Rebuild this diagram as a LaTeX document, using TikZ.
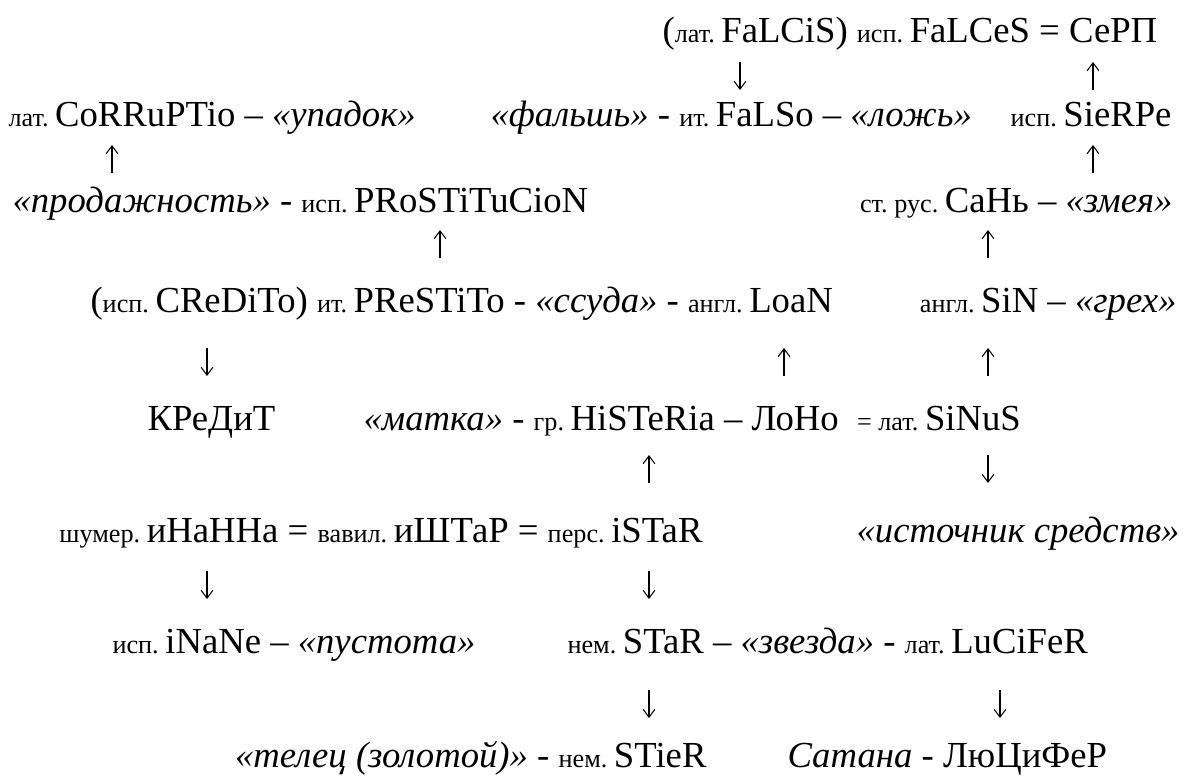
\documentclass[tikz,border=0pt]{standalone}
\usepackage{fontspec}
\setmainfont{Liberation Serif}
\usetikzlibrary{arrows.meta}
\frenchspacing
\def\sm#1{{\fontsize{10}{12}\selectfont #1\ }}
\def\gl#1{{\itshape #1}}
\def\arr{\draw[-{Straight Barb[length=3pt,width=4.5pt]},line width=0.4pt]}

\begin{document}
\begin{tikzpicture}[x=0.3815pt,y=-0.3815pt,
    every node/.style={inner sep=0pt,font=\fontsize{14}{17}\selectfont}]
\useasboundingbox (0,0) rectangle (1190,776);
% words
\node[anchor=base west] (falcis) at (662,42) {(\sm{лат.}FaLCiS) \sm{исп.}FaLCeS = СеРП};
\node[anchor=base west] (corruptio) at (8,126) {\sm{лат.}CoRRuPTio -- \gl{«упадок»}};
\node[anchor=base west] (falso) at (490,126) {\gl{«фальшь»} - \sm{ит.}FaLSo -- \gl{«ложь»}};
\node[anchor=base east] (sierpe) at (1172,126) {\sm{исп.}SieRPe};
\node[anchor=base west] (prostitucion) at (12,212) {\gl{«продажность»} - \sm{исп.}PRoSTiTuCioN};
\node[anchor=base east] (san) at (1173,212) {\sm{ст. рус.}СаНь -- \gl{«змея»}};
\node[anchor=base west] (prestito) at (90,312) {(\sm{исп.}CReDiTo) \sm{ит.}PReSTiTo - \gl{«ссуда»} - \sm{англ.}LoaN};
\node[anchor=base east] (sin) at (1177,312) {\sm{англ.}SiN -- \gl{«грех»}};
\node[anchor=base west] (kredit) at (147,430) {КРеДиТ};
\node[anchor=base west] (histeria) at (363,430) {\gl{«матка»} - \sm{гр.}HiSTeRia -- ЛоНо \ \sm{= лат.}SiNuS};
\node[anchor=base east] (istar) at (703,542) {\sm{шумер.}иНаННа = \sm{вавил.}иШТаР = \sm{перс.}iSTaR};
\node[anchor=base east] (istochnik) at (1180,542) {\gl{«источник средств»}};
\node[anchor=base west] (inane) at (112,653) {\sm{исп.}iNaNe -- \gl{«пустота»}};
\node[anchor=base west] (star) at (567,653) {\sm{нем.}STaR -- \gl{«звезда»} - \sm{лат.}LuCiFeR};
\node[anchor=base east] (stier) at (707,767) {\gl{«телец (золотой)»} - \sm{нем.}STieR};
\node[anchor=base west] (satana) at (787,767) {\gl{Сатана} - ЛюЦиФеР};
% arrow ends
\coordinate (a1) at (740,62);   \coordinate (b1) at (740,90);
\coordinate (a2) at (1093,90);  \coordinate (b2) at (1093,62);
\coordinate (a3) at (112,173);  \coordinate (b3) at (112,145);
\coordinate (a4) at (1093,173); \coordinate (b4) at (1093,145);
\coordinate (a5) at (440,258);  \coordinate (b5) at (440,230);
\coordinate (a6) at (988,258);  \coordinate (b6) at (988,230);
\coordinate (a7) at (207,348);  \coordinate (b7) at (207,376);
\coordinate (a8) at (784,376);  \coordinate (b8) at (784,348);
\coordinate (a9) at (988,376);  \coordinate (b9) at (988,348);
\coordinate (a10) at (649,483); \coordinate (b10) at (649,455);
\coordinate (a11) at (988,455); \coordinate (b11) at (988,483);
\coordinate (a12) at (207,571); \coordinate (b12) at (207,599);
\coordinate (a13) at (649,571); \coordinate (b13) at (649,599);
\coordinate (a14) at (649,690); \coordinate (b14) at (649,718);
\coordinate (a15) at (1000,690); \coordinate (b15) at (1000,718);
% arrows
\arr (a1) -- (b1);
\arr (a2) -- (b2);
\arr (a3) -- (b3);
\arr (a4) -- (b4);
\arr (a5) -- (b5);
\arr (a6) -- (b6);
\arr (a7) -- (b7);
\arr (a8) -- (b8);
\arr (a9) -- (b9);
\arr (a10) -- (b10);
\arr (a11) -- (b11);
\arr (a12) -- (b12);
\arr (a13) -- (b13);
\arr (a14) -- (b14);
\arr (a15) -- (b15);
\end{tikzpicture}
\end{document}
